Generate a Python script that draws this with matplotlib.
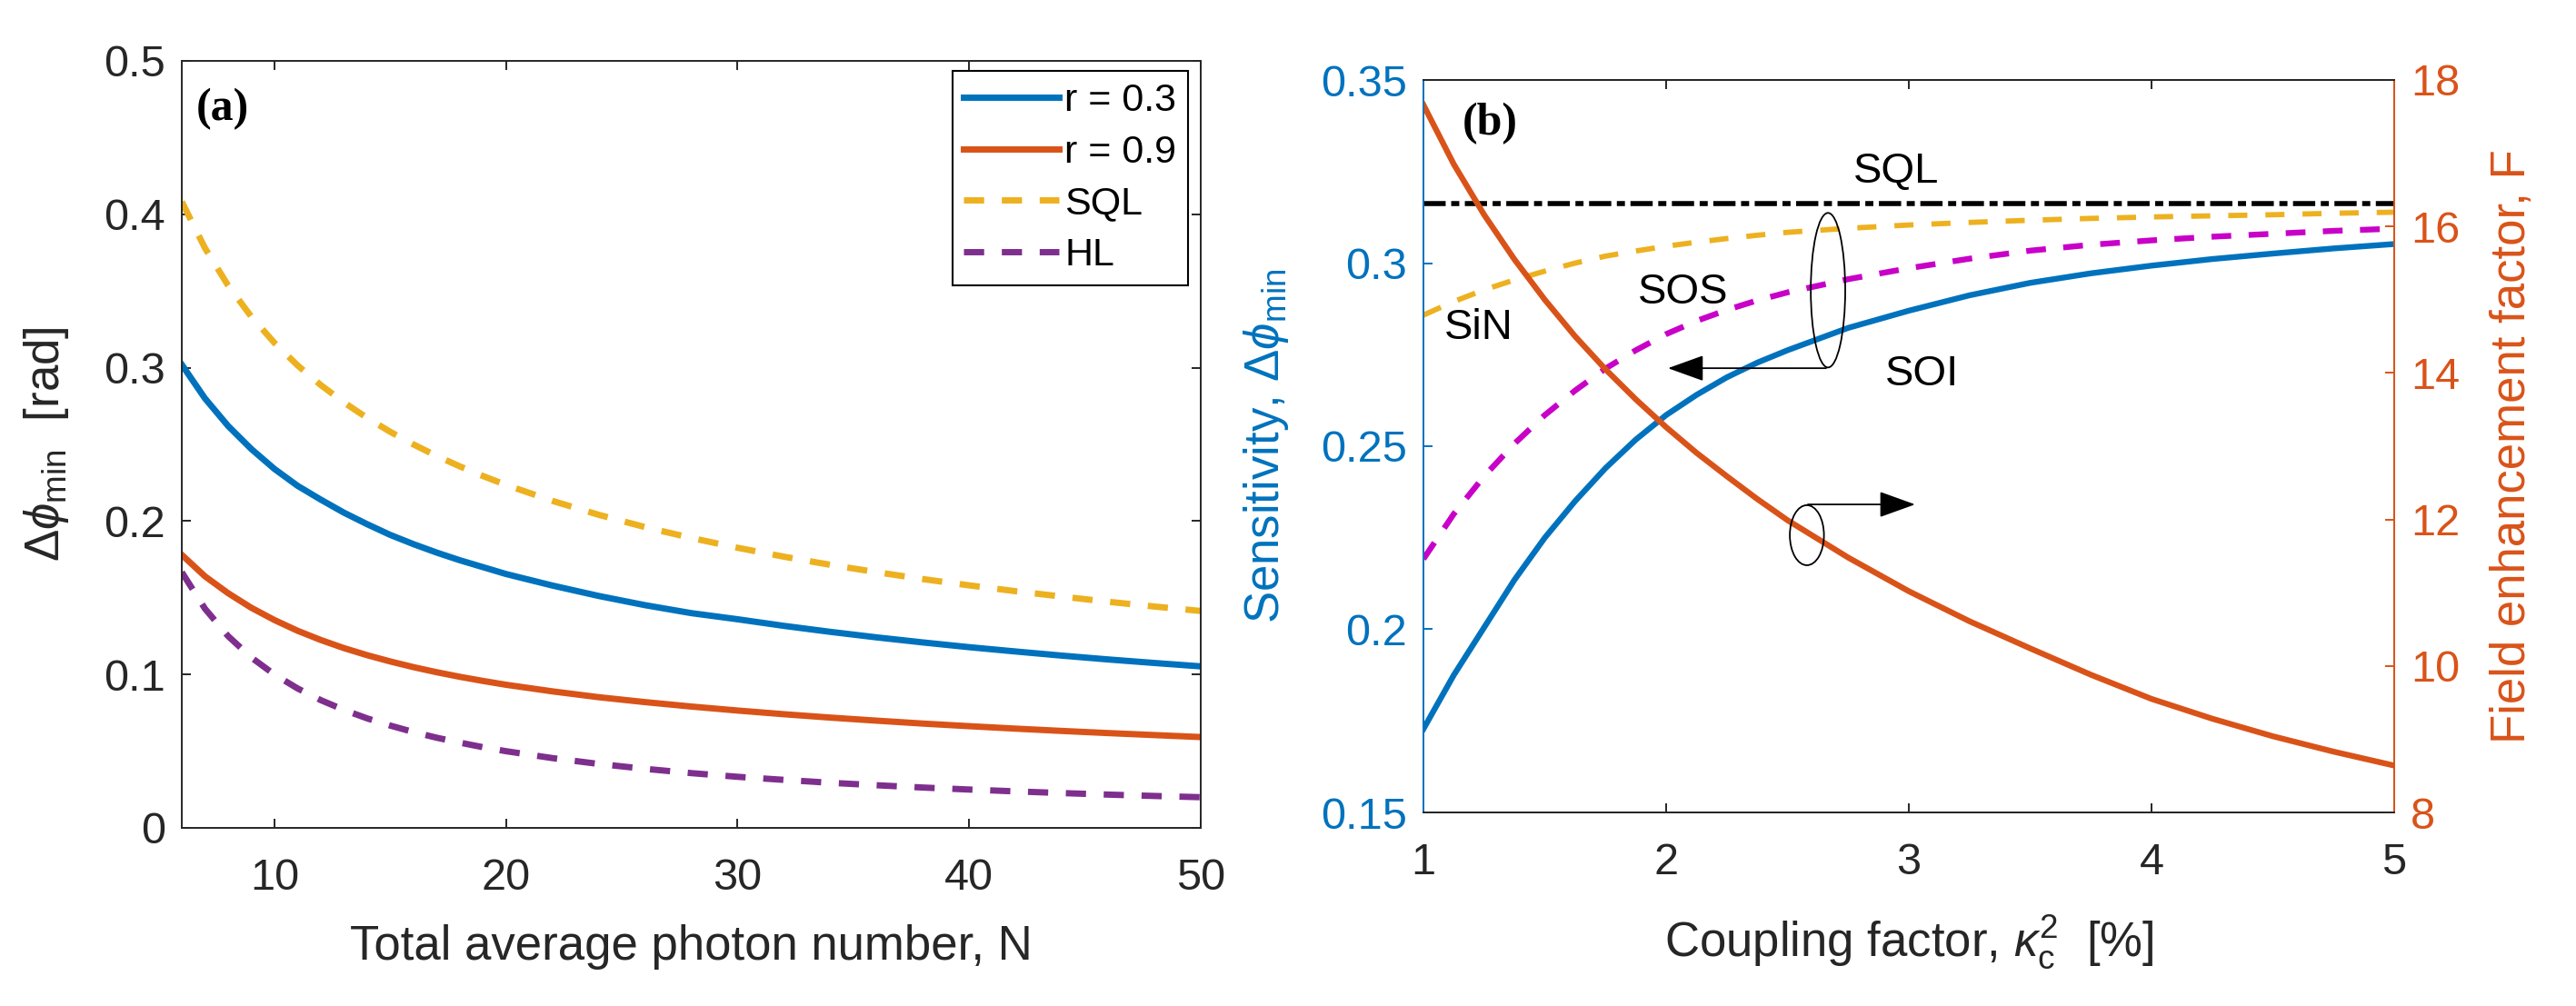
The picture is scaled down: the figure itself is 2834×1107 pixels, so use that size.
import matplotlib
matplotlib.use("Agg")
import matplotlib.pyplot as plt
from matplotlib.patches import Ellipse
from matplotlib.ticker import FuncFormatter

# ---------------- data: panel (a) ----------------
N_vals = [6, 7, 8, 9, 10, 11, 12, 13, 14, 15, 16, 17, 18, 19, 20,
          22, 24, 26, 28, 30, 32, 34, 36, 38, 40, 42, 44, 46, 48, 50]
r03_vals = [0.302, 0.280, 0.262, 0.247, 0.234, 0.223, 0.214, 0.2055, 0.198, 0.191,
            0.185, 0.1795, 0.1745, 0.170, 0.1655, 0.158, 0.1512, 0.1452, 0.1400, 0.1360,
            0.1317, 0.1278, 0.1242, 0.1209, 0.1178, 0.1150, 0.1123, 0.1098, 0.1075, 0.1053]
r09_vals = [0.178, 0.164, 0.153, 0.1435, 0.1355, 0.1285, 0.1225, 0.1172, 0.1126, 0.1085,
            0.1048, 0.1015, 0.0985, 0.0958, 0.0933, 0.0890, 0.0852, 0.0820, 0.0791, 0.0765,
            0.0741, 0.0719, 0.0699, 0.0680, 0.0663, 0.0647, 0.0632, 0.0618, 0.0605, 0.0592]
sqlA_vals = [0.4082, 0.378, 0.3536, 0.3333, 0.3162, 0.3015, 0.2887, 0.2774, 0.2673, 0.2582,
             0.250, 0.2425, 0.2357, 0.2294, 0.2236, 0.2132, 0.2041, 0.1961, 0.1890, 0.1826,
             0.1768, 0.1715, 0.1667, 0.1622, 0.1581, 0.1543, 0.1508, 0.1474, 0.1443, 0.1414]
hl_vals = [0.1667, 0.1429, 0.125, 0.1111, 0.100, 0.0909, 0.0833, 0.0769, 0.0714, 0.0667,
           0.0625, 0.0588, 0.0556, 0.0526, 0.050, 0.0455, 0.0417, 0.0385, 0.0357, 0.0333,
           0.0313, 0.0294, 0.0278, 0.0263, 0.0250, 0.0238, 0.0227, 0.0217, 0.0208, 0.0200]
legend_labels = ["r = 0.3", "r = 0.9", "SQL", "HL"]

# ---------------- data: panel (b) ----------------
k_vals = [1, 1.125, 1.25, 1.375, 1.5, 1.625, 1.75, 1.875, 2, 2.125, 2.25, 2.375, 2.5,
          2.75, 3, 3.25, 3.5, 3.75, 4, 4.25, 4.5, 4.75, 5]
soi_vals = [0.1728, 0.1875, 0.2005, 0.2135, 0.2250, 0.2350, 0.2440, 0.2518, 0.2585,
            0.2640, 0.2688, 0.2728, 0.2762, 0.2823, 0.2870, 0.2912, 0.2946, 0.2972,
            0.2993, 0.3011, 0.3026, 0.3040, 0.3052]
sos_vals = [0.2192, 0.2315, 0.2418, 0.2507, 0.2585, 0.2652, 0.2712, 0.2762, 0.2806,
            0.2842, 0.2872, 0.2898, 0.2920, 0.2956, 0.2986, 0.3012, 0.3034, 0.3050,
            0.3062, 0.3072, 0.3080, 0.3088, 0.3094]
sin_vals = [0.2858, 0.2895, 0.2927, 0.2954, 0.2978, 0.3000, 0.3019, 0.3033, 0.3046,
            0.3057, 0.3067, 0.3076, 0.3084, 0.3095, 0.3104, 0.3111, 0.3117, 0.3122,
            0.3126, 0.3129, 0.3132, 0.3136, 0.3139]
sqlB_x = [1, 5]
sqlB_vals = [0.3162, 0.3162]
F_vals = [17.66, 16.85, 16.16, 15.55, 15.00, 14.50, 14.05, 13.64, 13.26, 12.91,
          12.59, 12.28, 11.99, 11.48, 11.02, 10.61, 10.24, 9.88, 9.55, 9.28,
          9.04, 8.83, 8.64]

# ---------------- style ----------------
plt.rcParams['font.family'] = ['Liberation Sans', 'DejaVu Sans']
plt.rcParams['mathtext.fontset'] = 'custom'
plt.rcParams['mathtext.rm'] = 'Liberation Sans'
plt.rcParams['mathtext.it'] = 'Liberation Sans:italic'
plt.rcParams['mathtext.bf'] = 'Liberation Sans:bold'

BLUE = '#0072BD'
ORANGE = '#D95319'
YELLOW = '#EDB120'
PURPLE = '#7E2F8E'
MAGENTA = '#C800C8'
DARK = '#262626'

TICK_FS = 35
LABEL_FS = 38
LW = 5.0

fig = plt.figure(figsize=(28.34, 11.07), dpi=100)
W, H = 2834.0, 1107.0
axA = fig.add_axes([200 / W, (H - 911) / H, 1121 / W, 844 / H])
axB = fig.add_axes([1566 / W, (H - 894) / H, 1068 / W, 806 / H])
axBr = axB.twinx()

fmt = FuncFormatter(lambda v, p: '%g' % v)

# ---------------- panel (a) ----------------
axA.plot(N_vals, r03_vals, color=BLUE, lw=LW, label=legend_labels[0])
axA.plot(N_vals, r09_vals, color=ORANGE, lw=LW, label=legend_labels[1])
axA.plot(N_vals, sqlA_vals, color=YELLOW, lw=LW, dashes=(3.2, 2.8), label=legend_labels[2])
axA.plot(N_vals, hl_vals, color=PURPLE, lw=LW, dashes=(3.2, 2.8), label=legend_labels[3])
axA.set_xlim(6, 50)
axA.set_ylim(0, 0.5)
axA.set_xticks([10, 20, 30, 40, 50])
axA.set_yticks([0, 0.1, 0.2, 0.3, 0.4, 0.5])
axA.yaxis.set_major_formatter(fmt)
axA.tick_params(direction='in', length=7, width=1.4, colors=DARK, labelsize=TICK_FS,
                top=True, right=True)
axA.tick_params(axis='x', pad=24)
axA.tick_params(axis='y', pad=13)
for s in axA.spines.values():
    s.set_color(DARK)
    s.set_linewidth(1.4)
axA.set_xlabel('Total average photon number, N', fontsize=LABEL_FS, color=DARK)
axA.xaxis.label.set_va('baseline')
axA.xaxis.set_label_coords(0.5, (911 - 1056) / 844.0)
axA.set_ylabel(r'$\Delta\phi_{\rm min}$  [rad]', fontsize=LABEL_FS, color=DARK)
axA.yaxis.label.set_va('baseline')
axA.yaxis.set_label_coords((65 - 200) / 1121.0, 0.5)
leg = axA.legend(loc='upper right', bbox_to_anchor=(0.9875, 0.987), borderaxespad=0,
                 fontsize=31, handlelength=2.42, handletextpad=0.15, labelspacing=0.39,
                 borderpad=0.3, fancybox=False, framealpha=1, edgecolor='k')
leg.get_frame().set_linewidth(1.5)
axA.text(0.040, 0.937, '(a)', transform=axA.transAxes, ha='center', va='center',
         fontsize=36, fontweight='bold', family=['Liberation Serif', 'DejaVu Serif'])

# ---------------- panel (b) ----------------
axB.plot(sqlB_x, sqlB_vals, color='k', lw=4.0, dashes=(4.4, 1.1, 1.6, 1.1))
axB.plot(k_vals, sin_vals, color=YELLOW, lw=4.2, dashes=(3.6, 3.4))
axB.plot(k_vals, sos_vals, color=MAGENTA, lw=4.6, dashes=(3.4, 3.0))
axB.plot(k_vals, soi_vals, color=BLUE, lw=4.6)
axBr.plot(k_vals, F_vals, color=ORANGE, lw=4.6)

axB.set_xlim(1, 5)
axB.set_ylim(0.15, 0.35)
axBr.set_ylim(8, 18)
axB.set_xticks([1, 2, 3, 4, 5])
axB.set_yticks([0.15, 0.2, 0.25, 0.3, 0.35])
axBr.set_yticks([8, 10, 12, 14, 16, 18])
axB.yaxis.set_major_formatter(fmt)
axB.tick_params(axis='x', direction='in', length=7, width=1.4, colors=DARK,
                labelsize=TICK_FS, top=True, pad=24)
axB.tick_params(axis='y', direction='in', length=7, width=1.4, colors=BLUE,
                labelsize=TICK_FS, left=True, right=False, pad=13)
axBr.tick_params(axis='y', direction='in', length=7, width=1.4, colors=ORANGE,
                 labelsize=TICK_FS, pad=13)
for ax in (axB, axBr):
    for s in ax.spines.values():
        s.set_linewidth(1.4)
    ax.spines['top'].set_color(DARK)
    ax.spines['bottom'].set_color(DARK)
    ax.spines['left'].set_color(BLUE)
    ax.spines['right'].set_color(ORANGE)

axB.set_xlabel(r'Coupling factor, $\kappa_{\rm c}^{2}$  [%]', fontsize=LABEL_FS, color=DARK)
axB.xaxis.label.set_va('baseline')
axB.xaxis.set_label_coords(0.5, (894 - 1052) / 806.0)
axB.set_ylabel(r'Sensitivity, $\Delta\phi_{\rm min}$', fontsize=LABEL_FS, color=BLUE)
axB.yaxis.label.set_va('baseline')
axB.yaxis.set_label_coords((1407 - 1566) / 1068.0, 0.5)
axBr.set_ylabel('Field enhancement factor, F', fontsize=LABEL_FS, color=ORANGE)
axBr.yaxis.label.set_va('baseline')
axBr.yaxis.set_label_coords((2778 - 1566) / 1068.0, 0.5)

axB.text(0.069, 0.940, '(b)', transform=axB.transAxes, ha='center', va='center',
         fontsize=36, fontweight='bold', family=['Liberation Serif', 'DejaVu Serif'])

for txt, x, y in [('SQL', 2.948, 0.3220), ('SiN', 1.228, 0.2793),
                  ('SOS', 2.071, 0.2890), ('SOI', 3.056, 0.2666)]:
    axB.text(x, y, txt, ha='center', va='baseline', fontsize=34, color='k')

# annotation ellipses and arrows
axBr.add_patch(Ellipse((2.667, 0.2926), width=0.142, height=0.0422, fill=False,
                       ec='k', lw=1.3, transform=axB.transData, zorder=5))
axBr.add_patch(Ellipse((2.58, 0.2257), width=0.1406, height=0.0164, fill=False,
                       ec='k', lw=1.3, transform=axB.transData, zorder=5))
arrow_style = '-|>,head_length=1.25,head_width=0.45'
axB.annotate('', xy=(2.0075, 0.2713), xytext=(2.659, 0.2713),
             arrowprops=dict(arrowstyle=arrow_style, color='k', lw=1.3,
                             shrinkA=0, shrinkB=0, mutation_scale=20))
axB.annotate('', xy=(3.026, 0.2341), xytext=(2.584, 0.2341),
             arrowprops=dict(arrowstyle=arrow_style, color='k', lw=1.3,
                             shrinkA=0, shrinkB=0, mutation_scale=20))

fig.savefig('out.png', dpi=100)
